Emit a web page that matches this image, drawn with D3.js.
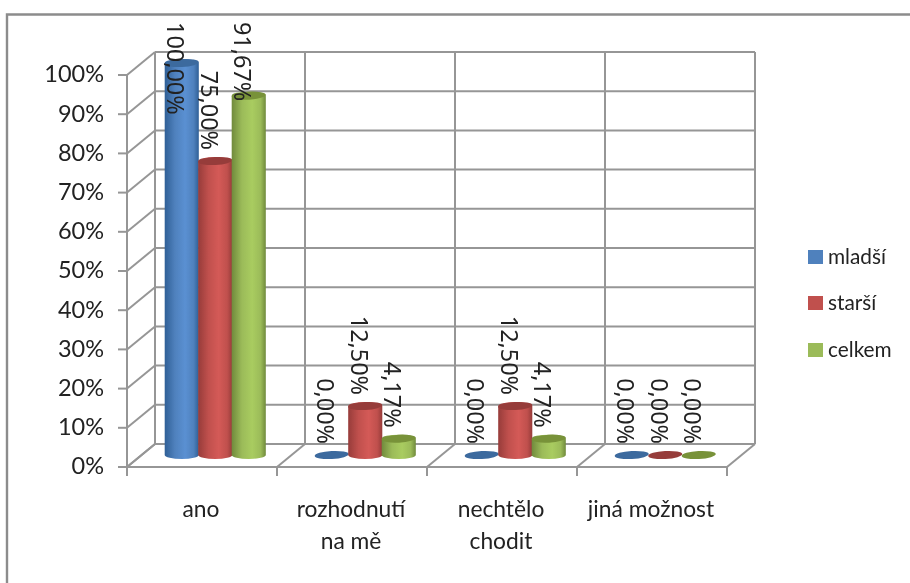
<!DOCTYPE html>
<html><head><meta charset="utf-8">
<script src="https://cdnjs.cloudflare.com/ajax/libs/d3/7.8.5/d3.min.js"></script>
<style>html,body{margin:0;padding:0;background:#fff}svg{display:block;filter:blur(0.45px)}text{fill:#222}</style>
</head><body><svg id="c" width="910" height="583"></svg>
<script>
const categories = [["ano"],["rozhodnutí","na mě"],["nechtělo","chodit"],["jiná možnost"]];
const seriesNames = ["mladší","starší","celkem"];
const mladsi = [100,0,0,0];
const starsi = [75,12.5,12.5,0];
const celkem = [91.67,4.17,4.17,0];
const seriesValues = [mladsi,starsi,celkem];
const yTicks = [0,10,20,30,40,50,60,70,80,90,100];
const colors = [
 {mid:"#4f81bd",light:"#5a90d2",dark:"#2f5f96",top:"#3c6a9e"},
 {mid:"#c0504d",light:"#d45a57",dark:"#973c3a",top:"#963c3a"},
 {mid:"#9bbb59",light:"#a9cc60",dark:"#708a3c",top:"#789239"}];
const grid="#969696";
const svg=d3.select("#c");
const FONT="Lato, sans-serif";
const dx=28, dy=-23;              // wall depth offset
const yFront=d3.scaleLinear().domain([0,100]).range([467,75]);
const xFront=d3.scaleBand().domain(d3.range(categories.length)).range([127,727]).paddingInner(0).paddingOuter(0);
// frame
svg.append("path").attr("d","M7,583V14.5H910").attr("fill","none").attr("stroke","#8c8c8c").attr("stroke-width",2.4);
const g=svg.append("g");
const line=(x1,y1,x2,y2)=>g.append("line").attr("x1",x1).attr("y1",y1).attr("x2",x2).attr("y2",y2).attr("stroke",grid).attr("stroke-width",2);
const x0=xFront.range()[0], x1=xFront.range()[1];
yTicks.forEach(t=>{
  const y=yFront(t);
  line(x0+dx,y+dy,x1+dx,y+dy);
  line(x0,y,x0+dx,y+dy);
  line(x0-9,y,x0,y);
});
xFront.domain().concat([categories.length]).forEach(i=>{
  const x=i<categories.length?xFront(i):x1;
  line(x+dx,yFront(0)+dy,x+dx,yFront(100)+dy);
  line(x,yFront(0),x+dx,yFront(0)+dy);
  line(x,yFront(0),x,yFront(0)+9);
});
line(x0,yFront(0),x0,yFront(100));
line(x0,yFront(0),x1,yFront(0));
// y labels
yTicks.forEach(t=>{
  svg.append("text").attr("x",104).attr("y",yFront(t)-1).attr("dy","0.36em").attr("text-anchor","end")
   .attr("font-family",FONT).attr("font-size",23.5).text(t+"%");
});
// cat labels
categories.forEach((lines,i)=>{
  const cx=xFront(i)+xFront.bandwidth()/2-1;
  lines.forEach((l,j)=>svg.append("text").attr("x",cx).attr("y",517+j*32).attr("text-anchor","middle")
    .attr("font-family",FONT).attr("font-size",22.8).text(l));
});
// gradients
const defs=svg.append("defs");
colors.forEach((c,i)=>{
  const gr=defs.append("linearGradient").attr("id","g"+i);
  [[0,c.dark],[.3,c.mid],[.6,c.light],[.85,c.mid],[1,c.dark]].forEach(s=>gr.append("stop").attr("offset",s[0]).attr("stop-color",s[1]));
});
// cylinders
const innerStart=38, step=33.5, rx=step/2+.3, ry=4;
const yBar=v=>yFront(v)-12;
seriesNames.forEach((n,s)=>{
  categories.forEach((_,i)=>{
    const v=seriesValues[s][i];
    const cx=xFront(i)+innerStart+step*(s+.5);
    const b=yBar(0), t=yBar(v);
    if(v>0){
      svg.append("path").attr("d",`M${cx-rx},${t}V${b}A${rx},${ry} 0 0 0 ${cx+rx},${b}V${t}A${rx},${ry} 0 0 0 ${cx-rx},${t}Z`)
        .attr("fill",`url(#g${s})`);
    }
    svg.append("ellipse").attr("cx",cx).attr("cy",t).attr("rx",rx).attr("ry",ry).attr("fill",colors[s].top)
      .attr("transform",`rotate(-3 ${cx} ${t})`);
  });
});
// value labels
seriesNames.forEach((n,s)=>{
  categories.forEach((_,i)=>{
    const v=seriesValues[s][i];
    const cx=xFront(i)+innerStart+step*(s+.5)-6;
    const txt=svg.append("text").attr("font-family","'Noto Sans', sans-serif").attr("font-size",23.4)
      .attr("dy","0.36em").text(v.toFixed(2).replace(".",",")+"%");
    txt.attr("textLength",null);
    const len=txt.node().getComputedTextLength();
    const start=Math.max(22,yBar(v)-11-len);
    txt.attr("transform",`translate(${cx},${start}) rotate(90)`);
  });
});
// legend
const legendY=[250,296,343];
seriesNames.forEach((n,s)=>{
  svg.append("rect").attr("x",808).attr("y",legendY[s]).attr("width",15).attr("height",14).attr("fill",colors[s].mid);
  svg.append("text").attr("x",828).attr("y",legendY[s]+7).attr("dy","0.36em").attr("font-family",FONT).attr("font-size",20.8).text(n);
});
</script></body></html>
